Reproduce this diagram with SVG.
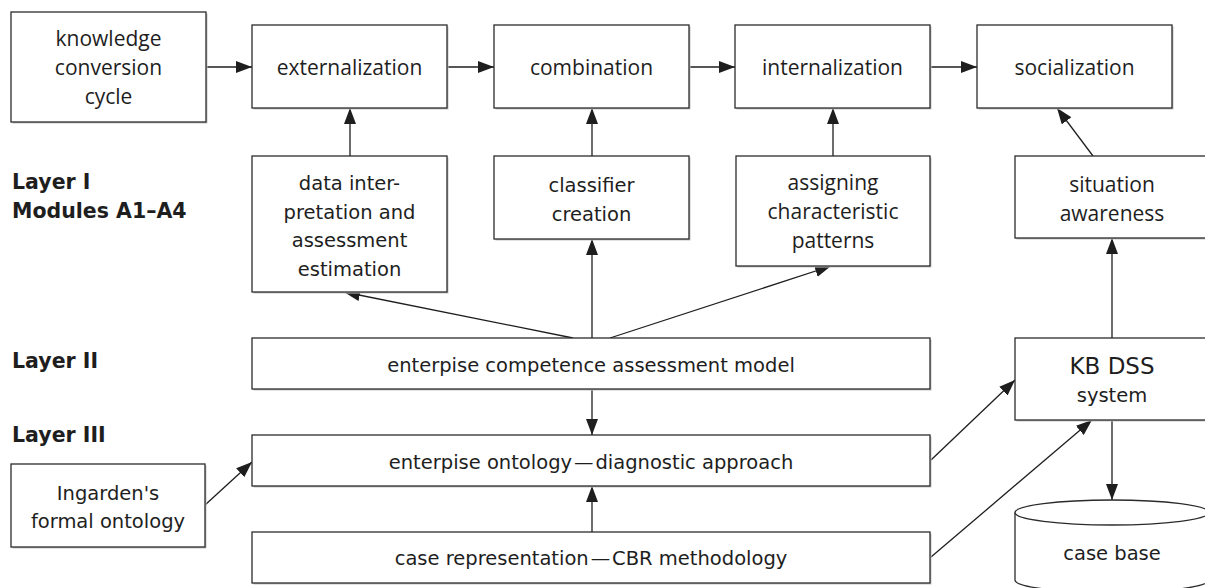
<svg xmlns="http://www.w3.org/2000/svg" width="1205" height="588" viewBox="0 0 1205 588">
<style>
.box{fill:#fff;stroke:#2b2b2b;stroke-width:1.3}
.sh{fill:#c4c4c4;stroke:none}
.f{font-family:"Open Sans","Liberation Sans",sans-serif;font-size:21px;fill:#1e1e1e;text-anchor:middle}
.c{font-family:"DejaVu Sans","Liberation Sans",sans-serif;font-size:19.5px;fill:#1e1e1e;text-anchor:middle}
.lab{font-family:"DejaVu Sans","Liberation Sans",sans-serif;font-size:20.5px;font-weight:bold;fill:#1e1e1e}
.con{stroke:#1e1e1e;stroke-width:1.3;fill:none;marker-end:url(#ah)}
</style>
<defs>
<marker id="ah" markerUnits="userSpaceOnUse" markerWidth="18" markerHeight="13" refX="16" refY="6" orient="auto">
<path d="M0,0 L16,6 L0,12 z" fill="#1e1e1e"/>
</marker>
</defs>
<rect width="1205" height="588" fill="#fff"/>

<g id="labels">
<text class="lab" x="12" y="189">Layer I</text>
<text class="lab" x="12" y="218">Modules A1–A4</text>
<text class="lab" x="12" y="368">Layer II</text>
<text class="lab" x="12" y="442">Layer III</text>
</g>

<g id="connectors">
<line class="con" x1="206" y1="67" x2="252" y2="67"/>
<line class="con" x1="447" y1="67" x2="494" y2="67"/>
<line class="con" x1="689" y1="67" x2="735" y2="67"/>
<line class="con" x1="930" y1="67" x2="977" y2="67"/>
<line class="con" x1="350" y1="156" x2="350" y2="108"/>
<line class="con" x1="592" y1="156" x2="592" y2="108"/>
<line class="con" x1="833" y1="156" x2="833" y2="108"/>
<line class="con" x1="1093" y1="156" x2="1057" y2="108"/>
<line class="con" x1="573" y1="338" x2="344" y2="292"/>
<line class="con" x1="592" y1="338" x2="592" y2="239"/>
<line class="con" x1="610" y1="338" x2="831" y2="266"/>
<line class="con" x1="592" y1="389" x2="592" y2="435"/>
<line class="con" x1="592" y1="532" x2="592" y2="486"/>
<line class="con" x1="205" y1="505" x2="252" y2="462"/>
<line class="con" x1="931" y1="460" x2="1015" y2="380"/>
<line class="con" x1="931" y1="557" x2="1092" y2="420"/>
<line class="con" x1="1112" y1="338" x2="1112" y2="238"/>
<line class="con" x1="1112" y1="420" x2="1112" y2="500"/>
</g>

<g id="knowledge">
<rect class="sh" x="12.5" y="13.5" width="195" height="110"/>
<rect class="box" x="11" y="12" width="195" height="110"/>
<text class="f" x="108.5" y="46">knowledge</text>
<text class="f" x="108.5" y="75">conversion</text>
<text class="f" x="108.5" y="104">cycle</text>
</g>
<g id="externalization">
<rect class="sh" x="253.5" y="26.5" width="195" height="83"/>
<rect class="box" x="252" y="25" width="195" height="83"/>
<text class="f" x="349.5" y="75">externalization</text>
</g>
<g id="combination">
<rect class="sh" x="495.5" y="26.5" width="195" height="83"/>
<rect class="box" x="494" y="25" width="195" height="83"/>
<text class="f" x="591.5" y="75">combination</text>
</g>
<g id="internalization">
<rect class="sh" x="736.5" y="26.5" width="195" height="83"/>
<rect class="box" x="735" y="25" width="195" height="83"/>
<text class="f" x="832.5" y="75">internalization</text>
</g>
<g id="socialization">
<rect class="sh" x="978.5" y="26.5" width="195" height="83"/>
<rect class="box" x="977" y="25" width="195" height="83"/>
<text class="f" x="1074.5" y="75">socialization</text>
</g>

<g id="data">
<rect class="sh" x="253.5" y="157.5" width="195" height="136"/>
<rect class="box" x="252" y="156" width="195" height="136"/>
<text class="c" x="349.5" y="190">data inter-</text>
<text class="c" x="349.5" y="218.5">pretation and</text>
<text class="c" x="349.5" y="247">assessment</text>
<text class="c" x="349.5" y="275.5">estimation</text>
</g>
<g id="classifier">
<rect class="sh" x="495.5" y="157.5" width="195" height="83"/>
<rect class="box" x="494" y="156" width="195" height="83"/>
<text class="c" x="591.5" y="192">classifier</text>
<text class="c" x="591.5" y="221">creation</text>
</g>
<g id="assigning">
<rect class="sh" x="737.5" y="157.5" width="194" height="110"/>
<rect class="box" x="736" y="156" width="194" height="110"/>
<text class="f" x="833" y="190">assigning</text>
<text class="f" x="833" y="219">characteristic</text>
<text class="f" x="833" y="248">patterns</text>
</g>
<g id="situation">
<rect class="sh" x="1016.5" y="157.5" width="194" height="82"/>
<rect class="box" x="1015" y="156" width="194" height="82"/>
<text class="f" x="1112" y="192">situation</text>
<text class="f" x="1112" y="221">awareness</text>
</g>

<g id="competence">
<rect class="sh" x="253.5" y="339.5" width="678" height="51"/>
<rect class="box" x="252" y="338" width="678" height="51"/>
<text class="c" x="591" y="372">enterpise competence assessment model</text>
</g>
<g id="ontology">
<rect class="sh" x="253.5" y="436.5" width="678" height="51"/>
<rect class="box" x="252" y="435" width="678" height="51"/>
<text class="c" x="591" y="469">enterpise ontology&#8202;—&#8202;diagnostic approach</text>
</g>
<g id="caserep">
<rect class="sh" x="253.5" y="533.5" width="678" height="51"/>
<rect class="box" x="252" y="532" width="678" height="51"/>
<text class="c" x="591" y="565">case representation&#8202;—&#8202;CBR methodology</text>
</g>
<g id="ingarden">
<rect class="sh" x="12.5" y="465.5" width="194" height="83"/>
<rect class="box" x="11" y="464" width="194" height="83"/>
<text class="c" x="108" y="500">Ingarden's</text>
<text class="c" x="108" y="528">formal ontology</text>
</g>
<g id="kbdss">
<rect class="sh" x="1016.5" y="339.5" width="194" height="82"/>
<rect class="box" x="1015" y="338" width="194" height="82"/>
<text class="c" x="1112" y="374" style="font-size:23px">KB DSS</text>
<text class="c" x="1112" y="402">system</text>
</g>
<g id="casebase">
<path d="M1015,512.5 L1015,580 A97,12.5 0 0 0 1209,580 L1209,512.5" fill="#fff" stroke="#2b2b2b" stroke-width="1.3"/>
<ellipse cx="1112" cy="512.5" rx="97" ry="12.5" fill="#fff" stroke="#2b2b2b" stroke-width="1.3"/>
<text class="c" x="1112" y="560">case base</text>
</g>
</svg>
